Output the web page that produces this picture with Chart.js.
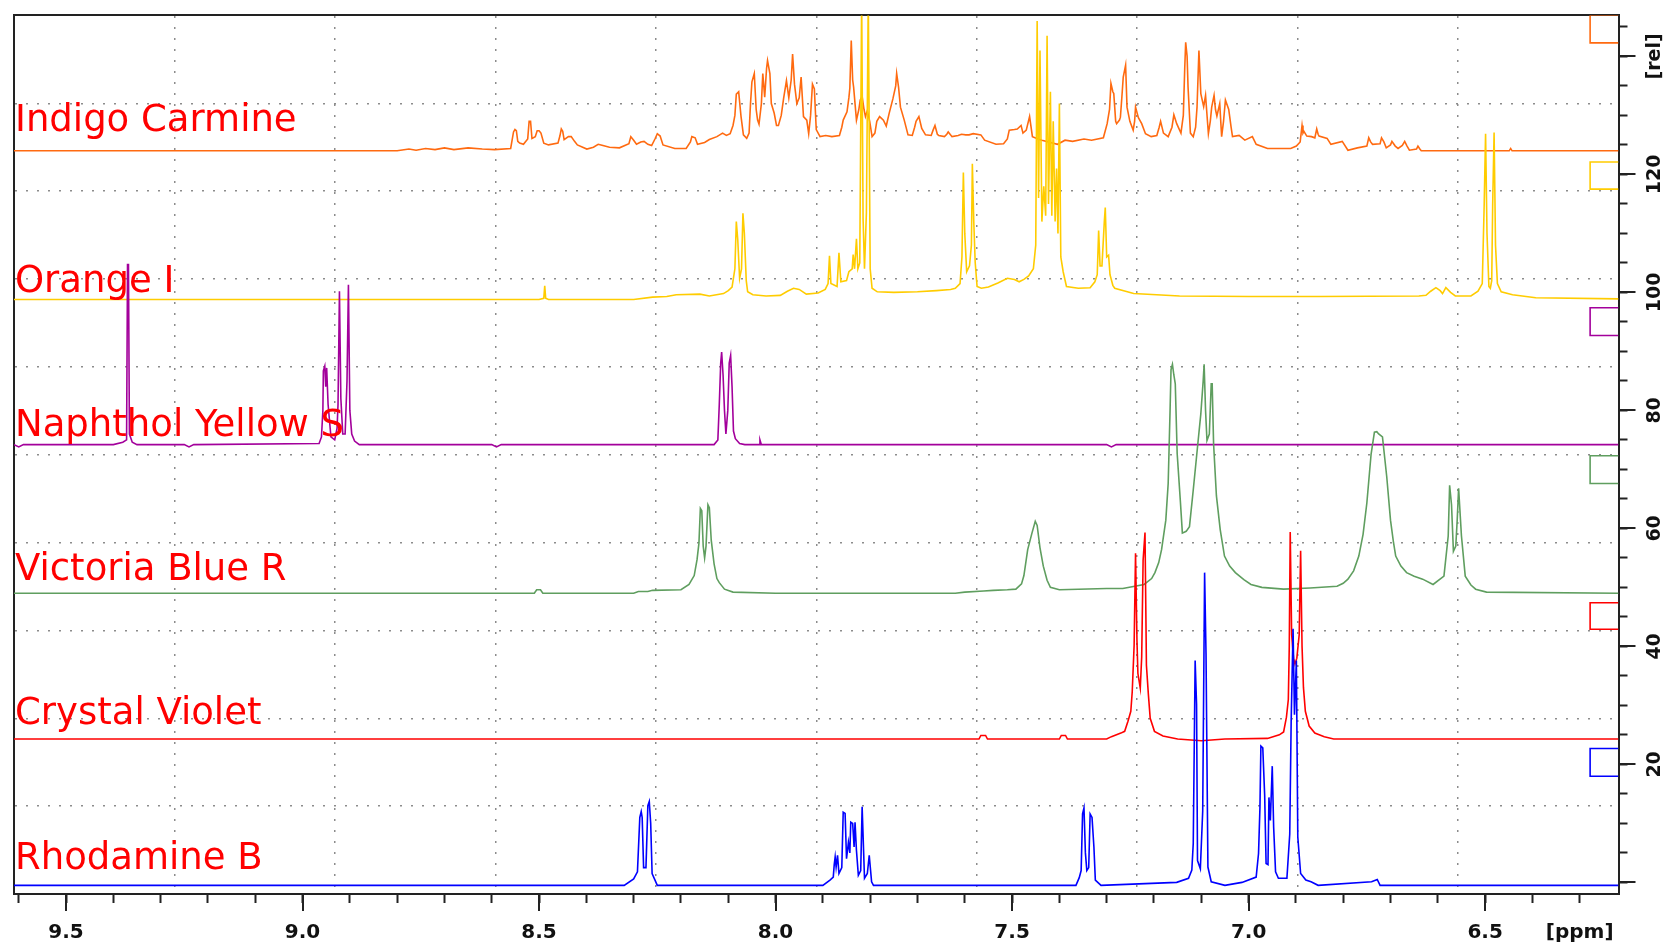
<!DOCTYPE html>
<html lang="en">
<head>
  <meta charset="UTF-8">
  <title>NMR overlay</title>
  <script src="https://cdn.jsdelivr.net/npm/chart.js"></script>
  <style>
    * { margin: 0; padding: 0; box-sizing: border-box; }
    body { background: #fff; width: 1674px; height: 946px; overflow: hidden; }
    canvas { display: block; }
  </style>
</head>
<body>
  <canvas id="nmrChart" width="1674" height="946"></canvas>

  <script>
    // spectrum names, drawn top to bottom
    const names = ['Indigo Carmine', 'Orange I', 'Naphthol Yellow S', 'Victoria Blue R', 'Crystal Violet', 'Rhodamine B'];
    const colors = ['#ff6a10', '#ffcc00', '#a3009b', '#5f9e5f', '#ff0000', '#0000ff'];

    // [ppm, rel] points
    const indigoCarmine = [[9.61,124.0],[8.800,124.0],[8.775,124.3],[8.760,124.1],[8.740,124.4],[8.720,124.2],[8.700,124.5],[8.680,124.2],[8.650,124.5],[8.620,124.3],[8.594,124.2],[8.560,124.4],[8.554,127.2],[8.551,127.6],[8.548,127.4],[8.545,125.6],[8.541,125.3],[8.533,125.1],[8.524,126],[8.521,129],[8.518,129],[8.515,126.1],[8.508,126.4],[8.504,127.4],[8.500,127.4],[8.496,127.0],[8.490,125.3],[8.480,125.0],[8.460,125.3],[8.456,126.5],[8.453,127.7],[8.450,127.3],[8.447,125.9],[8.438,126.4],[8.432,126.4],[8.425,125.6],[8.419,125.0],[8.399,124.3],[8.385,124.6],[8.375,125.1],[8.365,124.9],[8.351,124.6],[8.330,124.5],[8.310,125.2],[8.306,126.4],[8.300,125.8],[8.294,125.1],[8.285,125.5],[8.278,125.6],[8.270,125.1],[8.262,124.9],[8.255,126],[8.250,126.9],[8.244,126.5],[8.238,125.0],[8.213,124.4],[8.189,124.4],[8.180,125.5],[8.177,126.4],[8.170,126.2],[8.165,125.1],[8.150,125.4],[8.140,125.9],[8.124,126.4],[8.112,127.0],[8.104,126.6],[8.096,126.9],[8.090,128.3],[8.086,130],[8.083,133.6],[8.078,134.0],[8.073,129.8],[8.068,126.7],[8.061,126.1],[8.056,127.0],[8.053,132],[8.050,135.7],[8.045,137.1],[8.041,131],[8.038,129.2],[8.035,128.5],[8.030,132],[8.027,137.1],[8.023,133.1],[8.019,138],[8.017,139.3],[8.012,137.1],[8.009,132],[8.003,130.4],[7.998,128.3],[7.994,128.3],[7.988,130],[7.983,132.9],[7.977,135.9],[7.972,133],[7.967,136],[7.964,140.4],[7.960,135.3],[7.955,132],[7.950,133],[7.946,136.5],[7.941,129.8],[7.934,129.2],[7.930,126.9],[7.926,130],[7.922,135.3],[7.918,134.5],[7.914,127.6],[7.906,126.4],[7.894,126.6],[7.881,126.4],[7.865,126.6],[7.860,128],[7.857,129.2],[7.849,130.6],[7.845,133],[7.843,134.6],[7.840,142.7],[7.837,136],[7.835,134.8],[7.829,129.2],[7.824,131],[7.821,132.6],[7.817,133.2],[7.813,131],[7.810,129.8],[7.806,130.8],[7.801,129],[7.796,126.4],[7.790,127],[7.786,129],[7.780,129.8],[7.772,129.2],[7.766,128.2],[7.760,130.3],[7.752,132.8],[7.746,135],[7.744,137.1],[7.740,134.8],[7.736,131.4],[7.728,129.2],[7.720,126.7],[7.711,126.6],[7.706,128],[7.703,129],[7.697,129.8],[7.691,127.8],[7.683,126.7],[7.671,126.6],[7.667,127.5],[7.663,128.3],[7.658,126.8],[7.655,126.6],[7.643,126.4],[7.638,126.8],[7.635,127.2],[7.627,126.4],[7.614,126.6],[7.607,126.8],[7.598,126.7],[7.591,126.7],[7.582,126.9],[7.566,126.7],[7.558,125.8],[7.534,125.1],[7.518,125.2],[7.510,126],[7.506,127.5],[7.495,127.6],[7.489,127.7],[7.481,128.3],[7.477,127.0],[7.470,127.5],[7.463,129.8],[7.457,126.4],[7.445,126],[7.437,125.8],[7.404,125.1],[7.388,125.8],[7.372,125.6],[7.348,126],[7.332,125.8],[7.307,126.2],[7.299,128.6],[7.294,131],[7.291,135.4],[7.287,134],[7.285,133.7],[7.281,129],[7.279,128.6],[7.273,129.2],[7.271,129.7],[7.268,133],[7.265,136.5],[7.260,138.5],[7.257,131.4],[7.251,129],[7.244,127.5],[7.241,129],[7.239,131.4],[7.233,129.6],[7.226,128.6],[7.218,126.9],[7.206,126.4],[7.194,126.6],[7.189,128],[7.186,129],[7.180,127],[7.170,126.4],[7.162,128],[7.158,130.1],[7.152,128.6],[7.143,127],[7.138,130],[7.135,138],[7.133,142.4],[7.130,140],[7.128,134.8],[7.123,127],[7.117,126.4],[7.112,128],[7.109,131.4],[7.105,141],[7.101,133.7],[7.095,131.5],[7.091,133.4],[7.085,126.9],[7.081,129],[7.078,131.4],[7.073,133.4],[7.070,131],[7.067,129.9],[7.061,132],[7.057,126.4],[7.053,129],[7.049,132.6],[7.042,131],[7.037,128],[7.034,126.4],[7.020,126.6],[7.008,125.8],[6.992,126.4],[6.984,125.1],[6.960,124.4],[6.911,124.4],[6.899,124.8],[6.891,125.5],[6.887,128.3],[6.885,127],[6.883,127.3],[6.877,126.5],[6.867,126.4],[6.860,126.2],[6.856,127.7],[6.853,126.8],[6.851,126.5],[6.834,126.1],[6.826,125.1],[6.802,125.6],[6.790,124.1],[6.770,124.5],[6.750,124.8],[6.746,126.2],[6.742,125.5],[6.738,125.1],[6.722,125.2],[6.719,126.2],[6.714,125.5],[6.709,124.5],[6.700,125],[6.697,125.6],[6.690,124.8],[6.684,124.4],[6.675,124.9],[6.670,125.6],[6.665,124.8],[6.660,124.1],[6.645,124.3],[6.642,124.8],[6.638,124.3],[6.635,124.0],[6.449,124.0],[6.446,124.4],[6.443,124.0],[6.218,124.0]];

    const orangeI = [[9.61,98.8],[8.500,98.8],[8.490,99.0],[8.488,101.1],[8.486,99.0],[8.480,98.8],[8.300,98.8],[8.260,99.2],[8.230,99.3],[8.210,99.6],[8.160,99.7],[8.140,99.4],[8.110,99.8],[8.100,100.3],[8.092,100.9],[8.086,104],[8.083,112],[8.080,109],[8.076,102.4],[8.072,104],[8.069,113.4],[8.066,110],[8.062,102],[8.059,100.1],[8.048,99.6],[8.020,99.4],[7.990,99.5],[7.975,100.2],[7.962,100.7],[7.950,100.5],[7.935,99.7],[7.910,99.9],[7.895,100.5],[7.889,101.5],[7.886,106.2],[7.883,101.5],[7.870,101.0],[7.866,106.7],[7.862,101.8],[7.850,102.0],[7.845,103.5],[7.838,104],[7.836,106.4],[7.833,104],[7.829,109.1],[7.826,104],[7.822,105],[7.818,150],[7.815,112.5],[7.812,104],[7.808,113.5],[7.804,150],[7.800,104],[7.796,100.7],[7.785,100.1],[7.750,100.0],[7.700,100.1],[7.660,100.3],[7.630,100.5],[7.620,100.7],[7.610,101.5],[7.606,106],[7.603,120.3],[7.600,110],[7.596,103.5],[7.590,104.5],[7.586,108],[7.584,121.8],[7.581,112],[7.578,105.1],[7.574,101],[7.565,100.7],[7.550,100.9],[7.530,101.6],[7.510,102.4],[7.495,102.2],[7.485,101.8],[7.475,102.2],[7.465,102.8],[7.455,104],[7.450,108],[7.447,146],[7.444,116],[7.441,141],[7.437,112],[7.433,118],[7.429,113],[7.426,143.5],[7.423,115],[7.419,134],[7.416,113],[7.413,129],[7.409,112],[7.406,121],[7.403,110],[7.400,132],[7.397,106],[7.392,103.5],[7.385,101],[7.360,100.7],[7.335,100.8],[7.325,101.8],[7.320,103],[7.317,110.5],[7.314,104.5],[7.310,104.5],[7.305,112],[7.303,114.4],[7.300,106],[7.296,106.3],[7.293,103],[7.287,101.2],[7.283,100.7],[7.243,99.8],[7.146,99.4],[7.000,99.3],[6.850,99.3],[6.640,99.4],[6.625,99.5],[6.615,100.2],[6.604,100.8],[6.595,100.3],[6.590,99.8],[6.583,100.8],[6.573,100.0],[6.563,99.4],[6.530,99.4],[6.515,100.2],[6.506,101.5],[6.502,114.7],[6.499,126.9],[6.496,110],[6.492,101],[6.489,100.7],[6.486,102],[6.484,114.9],[6.481,127.1],[6.478,108],[6.474,101.5],[6.466,100.1],[6.442,99.6],[6.393,99.1],[6.218,98.9]];

    const naphtholYellowS = [[9.61,74.2],[9.600,73.8],[9.590,74.2],[9.400,74.2],[9.380,74.6],[9.372,75],[9.370,104.7],[9.368,104.7],[9.366,76],[9.360,74.6],[9.350,74.2],[9.250,74.2],[9.240,73.8],[9.230,74.2],[8.965,74.4],[8.960,75.5],[8.957,80],[8.956,86.7],[8.953,87.5],[8.951,84],[8.949,87.2],[8.946,81],[8.940,75.5],[8.932,75],[8.927,77],[8.925,81],[8.922,100.2],[8.919,82],[8.915,76],[8.910,76],[8.906,85],[8.903,101.3],[8.900,80],[8.896,76],[8.890,74.8],[8.880,74.2],[8.600,74.2],[8.590,73.8],[8.580,74.2],[8.130,74.2],[8.122,75],[8.119,81],[8.116,88],[8.114,89.9],[8.111,86],[8.108,80],[8.105,76],[8.101,80],[8.098,88],[8.095,89.3],[8.092,84],[8.089,76.5],[8.085,75.2],[8.076,74.4],[8.065,74.2],[8.035,74.2],[8.033,75],[8.030,74.2],[7.300,74.2],[7.290,73.8],[7.280,74.2],[6.218,74.2]];

    const victoriaBlueR = [[9.61,49.0],[8.510,49.0],[8.505,49.6],[8.497,49.6],[8.492,49.0],[8.300,49.0],[8.290,49.3],[8.270,49.3],[8.260,49.5],[8.200,49.6],[8.183,50.5],[8.172,52.0],[8.166,54.7],[8.162,57.5],[8.159,63.4],[8.156,63.0],[8.153,57],[8.150,55.0],[8.147,57],[8.143,64.0],[8.140,63.5],[8.136,58],[8.130,54],[8.124,51.5],[8.119,50.8],[8.108,49.7],[8.090,49.2],[8.000,49.0],[7.620,49.0],[7.600,49.2],[7.560,49.4],[7.540,49.5],[7.510,49.6],[7.492,49.7],[7.480,50.6],[7.475,52.0],[7.467,56.4],[7.458,59.2],[7.451,61.2],[7.447,60.5],[7.441,56.7],[7.434,53.6],[7.426,51.2],[7.419,50.0],[7.400,49.6],[7.300,49.8],[7.266,49.8],[7.221,50.5],[7.205,51.5],[7.198,52.5],[7.190,54.2],[7.184,56.4],[7.175,61.4],[7.170,67.6],[7.166,80],[7.164,86.9],[7.161,87.8],[7.158,86],[7.155,84.5],[7.151,72.7],[7.144,64.3],[7.140,59.2],[7.132,59.5],[7.125,60.3],[7.117,66.5],[7.108,73.8],[7.101,79.4],[7.096,85],[7.094,87.8],[7.091,80],[7.088,74.9],[7.083,76],[7.079,84.5],[7.077,84.5],[7.074,74.3],[7.068,65.5],[7.060,59.8],[7.051,55.3],[7.040,53.6],[7.028,52.5],[7.010,51.3],[6.995,50.5],[6.972,50.0],[6.926,49.7],[6.870,49.9],[6.813,50.2],[6.800,50.7],[6.790,51.4],[6.778,52.8],[6.767,55.3],[6.758,59.0],[6.750,64.3],[6.741,72.6],[6.734,76.3],[6.729,76.4],[6.725,76.0],[6.717,75.5],[6.708,68.8],[6.700,61.4],[6.694,57.8],[6.689,55.3],[6.678,53.6],[6.666,52.5],[6.650,51.9],[6.632,51.4],[6.610,50.5],[6.587,51.9],[6.578,58.7],[6.575,67.3],[6.571,64],[6.567,56.1],[6.562,57],[6.559,61.4],[6.556,66.8],[6.550,58.7],[6.542,51.9],[6.530,50.4],[6.520,49.7],[6.497,49.2],[6.218,49.0]];

    const crystalViolet = [[9.61,24.3],[7.570,24.3],[7.566,24.9],[7.556,24.9],[7.552,24.3],[7.400,24.3],[7.396,24.9],[7.387,24.9],[7.383,24.3],[7.300,24.3],[7.290,24.7],[7.270,25.3],[7.262,25.6],[7.255,27.3],[7.249,29.0],[7.246,32.3],[7.242,40.2],[7.239,55.8],[7.236,41.0],[7.234,35.4],[7.229,32.9],[7.226,38.2],[7.223,54.6],[7.219,59.3],[7.216,36.8],[7.212,32.0],[7.208,27.8],[7.199,25.6],[7.181,24.8],[7.150,24.3],[7.100,24.0],[7.050,24.3],[6.960,24.4],[6.935,25.0],[6.926,25.5],[6.920,28],[6.916,31],[6.914,40],[6.912,59.4],[6.909,42],[6.905,38],[6.902,37],[6.898,38],[6.893,42],[6.890,56.2],[6.887,40],[6.884,33],[6.880,29],[6.872,26.5],[6.860,25.3],[6.840,24.7],[6.820,24.3],[6.218,24.3]];

    const rhodamineB = [[9.61,-0.5],[8.320,-0.5],[8.300,0.6],[8.292,1.8],[8.287,11.0],[8.284,12.0],[8.282,11.0],[8.279,2.5],[8.274,2.5],[8.270,13.0],[8.267,13.7],[8.264,10.0],[8.261,1.5],[8.250,-0.5],[7.900,-0.5],[7.885,0.4],[7.878,0.9],[7.876,3.0],[7.874,4.3],[7.872,2.6],[7.869,4.6],[7.866,1.5],[7.860,2.5],[7.857,11.9],[7.853,11.7],[7.850,4.0],[7.846,6.8],[7.843,5.0],[7.841,10.2],[7.837,10.0],[7.834,6.0],[7.832,10.2],[7.829,5.4],[7.825,1.2],[7.820,2.0],[7.817,12.8],[7.812,0.7],[7.806,1.5],[7.802,4.6],[7.797,0.1],[7.793,-0.5],[7.365,-0.5],[7.358,0.8],[7.354,2.0],[7.351,11.6],[7.348,12.6],[7.345,5.0],[7.342,2.0],[7.338,2.5],[7.335,11.6],[7.331,11.0],[7.327,6.0],[7.324,0.4],[7.312,-0.5],[7.152,0.0],[7.127,0.7],[7.120,2.1],[7.117,6.6],[7.113,37.6],[7.110,30.2],[7.108,3.7],[7.102,2.3],[7.097,12.1],[7.093,52.5],[7.090,38.8],[7.086,2.6],[7.079,0.1],[7.050,-0.5],[7.014,0.0],[6.984,0.9],[6.979,4.9],[6.976,12.7],[6.974,23.1],[6.970,22.8],[6.966,14.7],[6.963,3.2],[6.959,3.0],[6.957,14.4],[6.954,10.5],[6.950,19.7],[6.947,9.3],[6.943,1.8],[6.937,0.7],[6.919,0.7],[6.913,8.2],[6.910,27.3],[6.906,43.0],[6.903,28.4],[6.899,37.6],[6.896,7.7],[6.890,1.5],[6.879,0.4],[6.868,0.1],[6.853,-0.5],[6.740,0.1],[6.728,0.5],[6.722,-0.5],[6.218,-0.5]];

    // little scale boxes at the right edge, one per spectrum
    const boxTop = [147.0, 122.1, 97.4, 72.3, 47.4, 22.7];
    const boxBottom = [142.3, 117.5, 92.7, 67.6, 42.9, 18.0];
    const boxPpm = [6.278, 6.218];

    const spectra = [indigoCarmine, orangeI, naphtholYellowS, victoriaBlueR, crystalViolet, rhodamineB];

    const near = (v, step) => Math.abs(v / step - Math.round(v / step)) < 1e-6;

    const datasets = [];
    spectra.forEach((pts, i) => {
      datasets.push({
        label: names[i],
        data: pts.map(p => ({ x: p[0], y: p[1] })),
        borderColor: colors[i],
        borderWidth: 1.6,
        pointRadius: 0,
        showLine: true,
        tension: 0,
        order: spectra.length - i
      });
    });
    boxTop.forEach((top, i) => {
      datasets.push({
        label: 'box' + i,
        data: [
          { x: boxPpm[1], y: top }, { x: boxPpm[0], y: top },
          { x: boxPpm[0], y: boxBottom[i] }, { x: boxPpm[1], y: boxBottom[i] }
        ],
        borderColor: colors[i],
        borderWidth: 1.6,
        pointRadius: 0,
        showLine: true,
        order: 20
      });
    });

    // red names just above each baseline (gap in px above the trace)
    const nameGap = [20, 7, 9, 13, 15, 16];
    const nameLabels = {
      id: 'nameLabels',
      afterDatasetsDraw(chart) {
        const { ctx, chartArea, scales: { y } } = chart;
        ctx.save();
        ctx.font = '37px "DejaVu Sans"';
        ctx.fillStyle = '#ff0000';
        ctx.textBaseline = 'alphabetic';
        spectra.forEach((pts, i) => {
          ctx.fillText(names[i], chartArea.left + 1, y.getPixelForValue(pts[0][1]) - nameGap[i]);
        });
        ctx.restore();
      }
    };

    // longer ticks at labelled values
    const majorTicks = {
      id: 'majorTicks',
      afterDraw(chart) {
        const { ctx, scales: { x, y } } = chart;
        ctx.save();
        ctx.strokeStyle = '#222';
        ctx.lineWidth = 2;
        ctx.beginPath();
        x.ticks.forEach(t => {
          if (near(t.value, 0.5)) {
            const px = Math.round(x.getPixelForValue(t.value));
            ctx.moveTo(px, x.top);
            ctx.lineTo(px, x.top + 17);
          }
        });
        y.ticks.forEach(t => {
          if (near(t.value, 20)) {
            const py = Math.round(y.getPixelForValue(t.value));
            ctx.moveTo(y.left, py);
            ctx.lineTo(y.left + 17, py);
          }
        });
        ctx.stroke();
        ctx.restore();
      }
    };

    const tickFont = { family: '"DejaVu Sans"', weight: 'bold' };
    const dotted = c => (c.tick.value === 0 || c.tick.value === 10) ? 'rgba(0,0,0,0)' : '#8c8c8c';

    new Chart(document.getElementById('nmrChart'), {
      type: 'scatter',
      data: { datasets },
      plugins: [nameLabels, majorTicks],
      options: {
        responsive: false,
        animation: false,
        devicePixelRatio: 1,
        layout: { padding: { top: 8, left: 14, right: 0, bottom: 0 } },
        plugins: { legend: { display: false }, tooltip: { enabled: false } },
        scales: {
          x: {
            type: 'linear', position: 'bottom', reverse: true,
            min: 6.218, max: 9.61,
            ticks: {
              stepSize: 0.1, includeBounds: false, autoSkip: false, maxRotation: 0,
              color: '#111', padding: 18, font: { ...tickFont, size: 20 },
              callback: v => Math.abs(v - 6.3) < 1e-6 ? '[ppm]' : (near(v, 0.5) ? v.toFixed(1) : '')
            },
            grid: { drawOnChartArea: false, tickLength: 9, tickWidth: 2, tickColor: '#222' },
            border: { color: '#222', width: 2 },
            afterFit: s => { s.height = 52; }
          },
          y: {
            type: 'linear', position: 'right',
            min: -1.97, max: 146.95,
            ticks: {
              stepSize: 5, includeBounds: false, autoSkip: false,
              minRotation: 90, maxRotation: 90, crossAlign: 'center',
              color: '#111', padding: 4, font: { ...tickFont, size: 19 },
              callback: v => v === 140 ? '[rel]' : (near(v, 20) && v > 0 ? String(v) : '')
            },
            grid: { drawOnChartArea: false, tickLength: 9, tickWidth: 2, tickColor: '#222' },
            border: { color: '#222', width: 2 },
            afterFit: s => { s.width = 55.5; }
          },
          // dotted frame grid, ten divisions each way
          gx: {
            type: 'linear', position: 'top', min: 0, max: 10,
            ticks: { display: false, stepSize: 1 },
            grid: { drawTicks: false, color: dotted, lineWidth: 1.5 },
            border: { display: true, color: '#222', width: 2, dash: [2, 9] },
            afterFit: s => { s.height = 0; }
          },
          gy: {
            type: 'linear', position: 'left', min: 0, max: 10,
            ticks: { display: false, stepSize: 1 },
            grid: { drawTicks: false, color: dotted, lineWidth: 1.5 },
            border: { display: true, color: '#222', width: 2, dash: [2, 9] },
            afterFit: s => { s.width = 0; }
          }
        }
      }
    });
  </script>
</body>
</html>
